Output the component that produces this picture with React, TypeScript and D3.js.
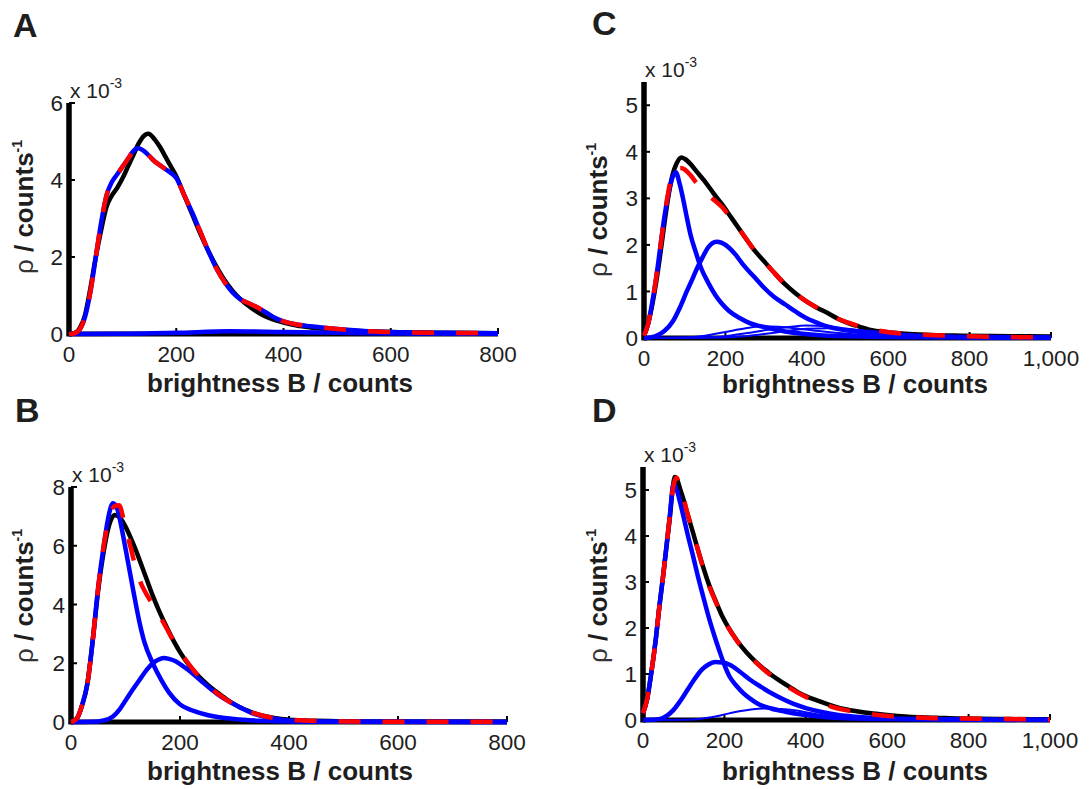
import React from 'react';
import * as d3 from 'd3';

type Pt = [number, number];

// ---------- Panel A ----------
const A_DATA: Pt[] = [[0,0],[10,0.02],[20,0.15],[30,0.5],[40,1.2],[50,2.0],[60,2.7],[70,3.3],[80,3.6],[90,3.8],[100,4.05],[110,4.35],[120,4.65],[130,4.95],[140,5.15],[148,5.2],[160,5.05],[170,4.85],[180,4.6],[190,4.35],[200,4.1],[215,3.6],[230,3.1],[245,2.6],[260,2.15],[275,1.75],[290,1.4],[305,1.12],[320,0.9],[340,0.68],[360,0.5],[380,0.38],[400,0.3],[425,0.22],[450,0.17],[500,0.11],[550,0.07],[600,0.05],[700,0.03],[800,0.02]];
const A_FIT: Pt[] = [[0,0],[10,0.02],[20,0.12],[30,0.45],[40,1.1],[50,2.0],[60,2.9],[70,3.6],[80,3.95],[90,4.15],[100,4.35],[110,4.55],[120,4.75],[128,4.83],[140,4.75],[150,4.62],[160,4.48],[170,4.38],[180,4.28],[190,4.18],[200,4.05],[215,3.6],[230,3.15],[245,2.65],[260,2.15],[275,1.7],[290,1.35],[305,1.08],[320,0.9],[335,0.8],[350,0.7],[365,0.58],[380,0.45],[400,0.33],[420,0.26],[450,0.2],[500,0.13],[550,0.08],[600,0.05],[700,0.03],[800,0.02]];
const A_COMP1: Pt[] = A_FIT;
const A_COMP2: Pt[] = [[0,0],[100,0.005],[200,0.03],[300,0.07],[400,0.05],[500,0.03],[600,0.015],[800,0.005]];

// ---------- Panel B ----------
const B_DATA: Pt[] = [[0,0],[10,0.1],[20,0.55],[30,1.3],[40,2.8],[50,4.5],[60,5.8],[70,6.7],[80,7.05],[90,6.95],[100,6.65],[110,6.25],[120,5.8],[130,5.3],[140,4.8],[150,4.3],[160,3.85],[175,3.25],[190,2.7],[200,2.38],[220,1.85],[240,1.45],[260,1.12],[280,0.85],[300,0.6],[325,0.38],[350,0.22],[375,0.13],[400,0.08],[450,0.04],[500,0.02],[600,0.01],[800,0.005]];
const B_FIT: Pt[] = [[0,0],[10,0.1],[20,0.55],[30,1.3],[40,2.8],[50,4.6],[60,6.0],[70,6.95],[80,7.35],[88,7.38],[100,6.6],[110,5.9],[120,5.15],[130,4.65],[140,4.3],[150,4.0],[160,3.7],[175,3.2],[190,2.7],[200,2.4],[220,1.88],[240,1.45],[260,1.1],[280,0.82],[300,0.58],[325,0.37],[350,0.22],[375,0.13],[400,0.08],[450,0.04],[500,0.02],[600,0.01],[800,0.005]];
const B_COMP1: Pt[] = [[0,0],[10,0.1],[20,0.55],[30,1.3],[40,2.8],[50,4.6],[60,6.0],[70,7.1],[77,7.45],[85,7.25],[95,6.4],[105,5.4],[115,4.4],[125,3.45],[135,2.7],[150,2.0],[165,1.45],[180,1.0],[200,0.6],[225,0.38],[250,0.24],[300,0.1],[350,0.04],[400,0.015],[500,0.005],[800,0]];
const B_COMP2: Pt[] = [[0,0],[40,0.005],[60,0.05],[77,0.19],[90,0.45],[101,0.76],[115,1.15],[126,1.44],[140,1.8],[150,2.0],[160,2.12],[170,2.18],[180,2.15],[192,2.07],[207,1.88],[222,1.67],[240,1.38],[258,1.1],[275,0.86],[295,0.65],[315,0.45],[331,0.31],[360,0.16],[385,0.08],[420,0.03],[500,0.01],[800,0]];

// ---------- Panel C ----------
const C_DATA: Pt[] = [[0,0.05],[10,0.3],[20,0.7],[30,1.2],[40,1.8],[50,2.45],[60,3.05],[70,3.5],[80,3.75],[92,3.88],[100,3.85],[114,3.74],[130,3.57],[148,3.38],[170,3.12],[191,2.88],[215,2.58],[243,2.23],[270,1.9],[295,1.65],[320,1.4],[347,1.15],[372,0.96],[398,0.79],[425,0.65],[450,0.54],[475,0.42],[502,0.32],[530,0.24],[553,0.18],[605,0.12],[690,0.07],[780,0.05],[900,0.04],[1000,0.03]];
const C_FIT: Pt[] = [[0,0.05],[10,0.3],[20,0.75],[30,1.3],[40,1.95],[50,2.6],[60,3.15],[70,3.55],[78,3.65],[90,3.65],[100,3.62],[114,3.5],[130,3.32],[148,3.15],[170,2.98],[191,2.82],[215,2.56],[243,2.23],[270,1.9],[295,1.65],[320,1.4],[347,1.15],[372,0.96],[398,0.79],[425,0.65],[450,0.53],[475,0.42],[502,0.33],[530,0.25],[553,0.2],[605,0.12],[690,0.07],[780,0.04],[900,0.02],[1000,0.01]];
const C_COMP1: Pt[] = [[0,0.05],[10,0.3],[20,0.75],[30,1.3],[40,1.95],[50,2.6],[60,3.1],[70,3.45],[78,3.56],[88,3.3],[97,2.95],[105,2.6],[114,2.23],[127,1.85],[140,1.51],[157,1.2],[174,0.94],[191,0.74],[209,0.58],[235,0.43],[260,0.32],[303,0.22],[347,0.14],[390,0.09],[433,0.06],[500,0.04],[600,0.02],[800,0.01],[1000,0.005]];
const C_COMP2: Pt[] = [[0,0],[20,0.02],[36,0.07],[50,0.15],[71,0.36],[88,0.65],[105,1.0],[118,1.25],[131,1.51],[145,1.75],[157,1.94],[168,2.04],[178,2.07],[190,2.05],[209,1.94],[226,1.78],[243,1.58],[270,1.32],[295,1.08],[320,0.88],[347,0.72],[372,0.57],[398,0.43],[425,0.33],[450,0.25],[485,0.18],[519,0.14],[560,0.1],[605,0.07],[700,0.04],[800,0.02],[1000,0.01]];
const C_COMP3: Pt[] = [[0,0],[100,0.01],[150,0.05],[200,0.13],[250,0.21],[290,0.25],[330,0.24],[380,0.2],[430,0.15],[500,0.09],[600,0.04],[700,0.02],[800,0.01],[1000,0]];
const C_COMP4: Pt[] = [[0,0],[150,0.01],[200,0.04],[250,0.1],[300,0.17],[350,0.23],[400,0.27],[450,0.25],[500,0.2],[560,0.13],[620,0.08],[700,0.04],[800,0.02],[1000,0]];
const C_COMP5: Pt[] = [[0,0],[200,0.01],[250,0.04],[300,0.09],[350,0.15],[400,0.2],[450,0.21],[500,0.19],[560,0.15],[620,0.1],[700,0.05],[800,0.02],[1000,0.005]];

// ---------- Panel D ----------
const D_DATA: Pt[] = [[0,0.15],[10,0.45],[20,1.0],[32,1.8],[40,2.45],[49,3.1],[58,3.8],[66,4.4],[72,4.95],[78,5.28],[85,5.2],[92,5.0],[100,4.78],[109,4.49],[122,4.1],[135,3.7],[148,3.32],[161,2.97],[178,2.6],[195,2.25],[212,1.98],[230,1.74],[255,1.46],[281,1.23],[307,1.04],[333,0.87],[360,0.72],[385,0.58],[410,0.48],[436,0.4],[462,0.32],[488,0.25],[525,0.19],[565,0.14],[610,0.1],[651,0.07],[720,0.05],[780,0.03],[900,0.02],[1000,0.015]];
const D_FIT: Pt[] = [[0,0.15],[10,0.45],[20,1.0],[32,1.8],[40,2.45],[49,3.1],[58,3.8],[66,4.45],[74,5.05],[82,5.27],[90,5.1],[100,4.8],[109,4.5],[122,4.1],[135,3.7],[148,3.3],[161,2.95],[178,2.58],[195,2.24],[212,1.97],[230,1.73],[255,1.45],[281,1.22],[307,1.02],[333,0.85],[360,0.7],[385,0.57],[410,0.46],[436,0.37],[462,0.29],[488,0.23],[525,0.17],[565,0.12],[610,0.08],[651,0.06],[720,0.04],[780,0.03],[900,0.02],[1000,0.01]];
const D_COMP1: Pt[] = [[0,0.15],[10,0.45],[20,1.0],[32,1.8],[40,2.45],[49,3.1],[58,3.8],[66,4.45],[75,5.14],[83,5.0],[92,4.7],[100,4.4],[109,4.06],[122,3.6],[135,3.12],[148,2.68],[161,2.25],[174,1.87],[187,1.52],[200,1.2],[213,0.94],[230,0.74],[247,0.58],[264,0.46],[281,0.36],[315,0.25],[350,0.18],[390,0.12],[436,0.07],[500,0.04],[600,0.02],[800,0.01],[1000,0.005]];
const D_COMP2: Pt[] = [[0,0],[30,0.01],[45,0.03],[60,0.1],[75,0.22],[92,0.42],[109,0.65],[126,0.88],[144,1.09],[160,1.2],[178,1.26],[195,1.25],[213,1.2],[238,1.05],[264,0.87],[290,0.72],[316,0.58],[342,0.46],[367,0.36],[400,0.26],[436,0.18],[480,0.11],[522,0.07],[600,0.03],[700,0.015],[850,0.005],[1000,0]];
const D_COMP3: Pt[] = [[0,0],[100,0.005],[152,0.04],[190,0.1],[230,0.18],[265,0.23],[299,0.25],[333,0.24],[367,0.22],[400,0.17],[436,0.11],[480,0.07],[522,0.04],[600,0.02],[700,0.01],[1000,0]];

// ---------- ticks ----------
const X_TICKS_800 = [0, 200, 400, 600, 800];
const X_TICKS_1000 = [0, 200, 400, 600, 800, 1000];
const Y_TICKS_A = [0, 2, 4, 6];
const Y_TICKS_B = [0, 2, 4, 6, 8];
const Y_TICKS_CD = [0, 1, 2, 3, 4, 5];

const X_LABEL = 'brightness B / counts';

interface Panel {
  letter: string;
  xMax: number; yMax: number;
  xTicks: number[]; yTicks: number[];
  data: Pt[]; fit: Pt[]; comps: Pt[][]; thin: Pt[][];
  left: number; right: number; bottom: number; top: number;
  letterXY: [number, number];
  yLabelXY: [number, number];
  xLabelXY: [number, number];
}

const PANELS: Panel[] = [
  { letter: 'A', xMax: 800, yMax: 6, xTicks: X_TICKS_800, yTicks: Y_TICKS_A,
    data: A_DATA, fit: A_FIT, comps: [A_COMP1, A_COMP2], thin: [],
    left: 69, right: 498, bottom: 334, top: 103,
    letterXY: [13, 37], yLabelXY: [33, 207], xLabelXY: [280, 392] },
  { letter: 'B', xMax: 800, yMax: 8, xTicks: X_TICKS_800, yTicks: Y_TICKS_B,
    data: B_DATA, fit: B_FIT, comps: [B_COMP1, B_COMP2], thin: [],
    left: 71, right: 507, bottom: 722, top: 487,
    letterXY: [15, 422], yLabelXY: [33, 596], xLabelXY: [280, 780] },
  { letter: 'C', xMax: 1000, yMax: 5.5, xTicks: X_TICKS_1000, yTicks: Y_TICKS_CD,
    data: C_DATA, fit: C_FIT, comps: [C_COMP1, C_COMP2], thin: [C_COMP3, C_COMP4, C_COMP5],
    left: 644, right: 1051, bottom: 338, top: 82,
    letterXY: [592, 35], yLabelXY: [607, 210], xLabelXY: [855, 393] },
  { letter: 'D', xMax: 1000, yMax: 5.5, xTicks: X_TICKS_1000, yTicks: Y_TICKS_CD,
    data: D_DATA, fit: D_FIT, comps: [D_COMP1, D_COMP2], thin: [D_COMP3],
    left: 643, right: 1050, bottom: 720, top: 467,
    letterXY: [592, 422], yLabelXY: [607, 596], xLabelXY: [855, 780] },
];

const FONT = '"Liberation Sans", Arial, Helvetica, sans-serif';
const TXT = '#1e1e1e';
const fmt = d3.format(',');

function PanelView({ p }: { p: Panel }) {
  const x = d3.scaleLinear().domain([0, p.xMax]).range([p.left, p.right]);
  const y = d3.scaleLinear().domain([0, p.yMax]).range([p.bottom, p.top]);
  const line = d3.line<Pt>().x(d => x(d[0])).y(d => y(d[1])).curve(d3.curveMonotoneX);
  return (
    <g fontFamily={FONT}>
      <text x={p.letterXY[0]} y={p.letterXY[1]} fontSize={34} fontWeight="bold" fill={TXT}>{p.letter}</text>
      {/* axes */}
      <line x1={x(0)} x2={x(0)} y1={y(0) + 2.5} y2={y(p.yMax)} stroke="#000" strokeWidth={5.5} />
      <line x1={x(0)} x2={x(p.xMax)} y1={y(0)} y2={y(0)} stroke="#000" strokeWidth={5} />
      {p.yTicks.map(t => (
        <g key={'y' + t}>
          <line x1={x(0)} x2={x(0) + 6} y1={y(t)} y2={y(t)} stroke="#000" strokeWidth={2} />
          <text x={x(0) - 6} y={y(t)} dy="0.36em" textAnchor="end" fontSize={22.5} fill={TXT}>{fmt(t)}</text>
        </g>
      ))}
      {p.xTicks.map(t => (
        <g key={'x' + t}>
          <line x1={x(t)} x2={x(t)} y1={y(0)} y2={y(0) - 6} stroke="#000" strokeWidth={2} />
          <text x={x(t)} y={y(0) + 28} textAnchor="middle" fontSize={22.5} fill={TXT}>{fmt(t)}</text>
        </g>
      ))}
      {/* exponent */}
      <text x={x(0) + 1} y={y(p.yMax) - 5} fontSize={21} fill={TXT}>
        <tspan>x 10</tspan>
        <tspan fontSize={14} dy={-10}>-3</tspan>
      </text>
      {/* curves */}
      <path d={line(p.data) || ''} fill="none" stroke="#000" strokeWidth={4.5} strokeLinejoin="round" />
      {p.thin.map((c, i) => (
        <path key={'t' + i} d={line(c) || ''} fill="none" stroke="#0000ff" strokeWidth={2} />
      ))}
      {p.comps.map((c, i) => (
        <path key={'c' + i} d={line(c) || ''} fill="none" stroke="#0000ff" strokeWidth={4.5} strokeLinejoin="round" />
      ))}
      <path d={line(p.fit) || ''} fill="none" stroke="#ff0000" strokeWidth={4.5} strokeDasharray="22,22" />
      {/* labels */}
      <text x={p.xLabelXY[0]} y={p.xLabelXY[1]} textAnchor="middle" fontSize={26} fontWeight="bold" fill={TXT}>{X_LABEL}</text>
      <text transform={`translate(${p.yLabelXY[0]},${p.yLabelXY[1]}) rotate(-90)`} textAnchor="middle" fontSize={26} fill={TXT}>
        <tspan fill="#333">ρ</tspan>
        <tspan fontWeight="bold"> / counts</tspan>
        <tspan fontWeight="bold" fontSize={14} dy={-11}>-1</tspan>
      </text>
    </g>
  );
}

export default function App() {
  return (
    <svg width={1091} height={789} style={{ position: 'absolute', left: 0, top: 0, background: '#fff' }}>
      <rect width={1091} height={789} fill="#fff" />
      {PANELS.map(p => <PanelView key={p.letter} p={p} />)}
    </svg>
  );
}
